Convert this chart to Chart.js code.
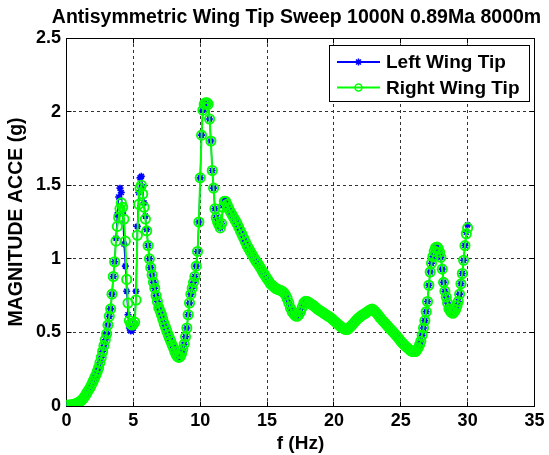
<!DOCTYPE html>
<html>
<head>
<meta charset="utf-8">
<title>Wing tip sweep</title>
<script src="https://cdn.jsdelivr.net/npm/chart.js@4.4.0/dist/chart.umd.min.js"></script>
<style>
  html, body { margin: 0; padding: 0; background: #fff; }
</style>
</head>
<body>
<canvas id="sweepChart" width="549" height="455"></canvas>
<script>
// sweep frequencies (Hz)
let freqHz = [
    0, 0.1, 0.2, 0.3, 0.4, 0.5, 0.6, 0.7, 0.8, 0.9, 1,
    1.1, 1.2, 1.3, 1.4, 1.5, 1.6, 1.7, 1.8, 1.9, 2,
    2.1, 2.2, 2.3, 2.4, 2.5, 2.6, 2.7, 2.8, 2.9, 3,
    3.1, 3.2, 3.3, 3.4, 3.5, 3.6, 3.7, 3.8, 3.9, 4,
    4.1, 4.2, 4.3, 4.4, 4.5, 4.6, 4.7, 4.8, 4.9, 5,
    5.1, 5.2, 5.3, 5.4, 5.5, 5.6, 5.7, 5.8, 5.9, 6,
    6.1, 6.2, 6.3, 6.4, 6.5, 6.6, 6.7, 6.8, 6.9, 7,
    7.1, 7.2, 7.3, 7.4, 7.5, 7.6, 7.7, 7.8, 7.9, 8,
    8.1, 8.2, 8.3, 8.4, 8.5, 8.6, 8.7, 8.8, 8.9, 9,
    9.1, 9.2, 9.3, 9.4, 9.5, 9.6, 9.7, 9.8, 9.9, 10,
    10.1, 10.2, 10.3, 10.4, 10.5, 10.6, 10.7, 10.8, 10.9, 11,
    11.1, 11.2, 11.3, 11.4, 11.5, 11.6, 11.7, 11.8, 11.9, 12,
    12.125, 12.25, 12.375, 12.5, 12.625, 12.75, 12.875, 13,
    13.125, 13.25, 13.375, 13.5, 13.625, 13.75, 13.875, 14,
    14.125, 14.25, 14.375, 14.5, 14.625, 14.75, 14.875, 15,
    15.125, 15.25, 15.375, 15.5, 15.625, 15.75, 15.875, 16,
    16.125, 16.25, 16.375, 16.5, 16.625, 16.75, 16.875, 17,
    17.125, 17.25, 17.375, 17.5, 17.625, 17.75, 17.875, 18,
    18.125, 18.25, 18.375, 18.5, 18.625, 18.75, 18.875, 19,
    19.125, 19.25, 19.375, 19.5, 19.625, 19.75, 19.875, 20,
    20.125, 20.25, 20.375, 20.5, 20.625, 20.75, 20.875, 21,
    21.125, 21.25, 21.375, 21.5, 21.625, 21.75, 21.875, 22,
    22.125, 22.25, 22.375, 22.5, 22.625, 22.75, 22.875, 23,
    23.125, 23.25, 23.375, 23.5, 23.625, 23.75, 23.875, 24,
    24.125, 24.25, 24.375, 24.5, 24.625, 24.75, 24.875, 25,
    25.125, 25.25, 25.375, 25.5, 25.625, 25.75, 25.875, 26,
    26.1, 26.2, 26.3, 26.4, 26.5, 26.6, 26.7, 26.8, 26.9, 27,
    27.1, 27.2, 27.3, 27.4, 27.5, 27.6, 27.7, 27.8, 27.9, 28,
    28.1, 28.2, 28.3, 28.4, 28.5, 28.6, 28.7, 28.8, 28.9, 29,
    29.1, 29.2, 29.3, 29.4, 29.5, 29.6, 29.7, 29.8, 29.9, 30
];

// acceleration magnitude (g), left wing tip
let leftTip = [
    0.005, 0.005, 0.006, 0.007, 0.008, 0.01, 0.012, 0.016, 0.02, 0.025, 0.03,
    0.037, 0.045, 0.057, 0.07, 0.085, 0.1, 0.115, 0.13, 0.15, 0.17,
    0.19, 0.21, 0.235, 0.26, 0.295, 0.33, 0.37, 0.41, 0.45, 0.49,
    0.55, 0.61, 0.66, 0.76, 0.88, 0.98, 1.14, 1.30, 1.42, 1.48,
    1.45, 1.31, 1.10, 0.95, 0.78, 0.62, 0.53, 0.51, 0.515, 0.53,
    0.56, 0.78, 1.22, 1.45, 1.55, 1.56, 1.49, 1.38, 1.29, 1.20,
    1.09, 1.00, 0.94, 0.89, 0.84, 0.80, 0.75, 0.71, 0.67, 0.645,
    0.62, 0.59, 0.56, 0.535, 0.51, 0.485, 0.46, 0.44, 0.415, 0.395,
    0.365, 0.345, 0.33, 0.325, 0.33, 0.35, 0.38, 0.42, 0.47, 0.53,
    0.62, 0.70, 0.76, 0.80, 0.84, 0.88, 0.95, 1.05, 1.25, 1.55,
    1.84, 2.01, 2.05, 2.06, 2.06, 2.05, 1.95, 1.80, 1.60, 1.48,
    1.34, 1.28, 1.25, 1.23, 1.21, 1.24, 1.36, 1.40, 1.40, 1.37,
    1.345, 1.32, 1.30, 1.28, 1.26, 1.24, 1.215, 1.19,
    1.165, 1.14, 1.115, 1.09, 1.07, 1.05, 1.03, 1.01,
    0.99, 0.975, 0.958, 0.94, 0.92, 0.90, 0.882, 0.865,
    0.848, 0.83, 0.82, 0.81, 0.80, 0.795, 0.79, 0.785,
    0.78, 0.77, 0.755, 0.73, 0.70, 0.665, 0.64, 0.625,
    0.612, 0.61, 0.62, 0.64, 0.67, 0.70, 0.712, 0.71,
    0.703, 0.695, 0.688, 0.68, 0.67, 0.66, 0.652, 0.645,
    0.638, 0.63, 0.622, 0.615, 0.608, 0.60, 0.59, 0.58,
    0.57, 0.56, 0.55, 0.54, 0.532, 0.525, 0.52, 0.52,
    0.528, 0.54, 0.552, 0.565, 0.578, 0.59, 0.60, 0.61,
    0.618, 0.625, 0.632, 0.64, 0.648, 0.655, 0.658, 0.65,
    0.638, 0.625, 0.61, 0.595, 0.582, 0.57, 0.558, 0.545,
    0.532, 0.52, 0.508, 0.495, 0.482, 0.47, 0.455, 0.44,
    0.428, 0.415, 0.405, 0.395, 0.385, 0.375, 0.37, 0.37,
    0.37, 0.38, 0.395, 0.415, 0.44, 0.48, 0.53, 0.58, 0.64, 0.71,
    0.82, 0.91, 0.97, 1.015, 1.05, 1.075, 1.08, 1.07, 1.045, 1.01,
    0.93, 0.84, 0.78, 0.74, 0.70, 0.66, 0.645, 0.635, 0.63, 0.64,
    0.655, 0.68, 0.71, 0.76, 0.83, 0.90, 0.99, 1.09, 1.18, 1.23
];

// acceleration magnitude (g), right wing tip
let rightTip = [
    0.005, 0.005, 0.006, 0.007, 0.008, 0.01, 0.012, 0.016, 0.02, 0.025, 0.03,
    0.037, 0.045, 0.057, 0.07, 0.085, 0.1, 0.115, 0.13, 0.15, 0.17,
    0.19, 0.21, 0.235, 0.26, 0.295, 0.33, 0.37, 0.41, 0.45, 0.49,
    0.55, 0.61, 0.66, 0.76, 0.88, 0.98, 1.12, 1.22, 1.28, 1.34,
    1.38, 1.35, 1.27, 1.12, 0.86, 0.70, 0.58, 0.56, 0.55, 0.555,
    0.57, 0.72, 1.16, 1.37, 1.48, 1.50, 1.44, 1.35, 1.27, 1.19,
    1.09, 1.00, 0.94, 0.89, 0.84, 0.80, 0.75, 0.71, 0.67, 0.645,
    0.62, 0.59, 0.56, 0.535, 0.51, 0.485, 0.46, 0.44, 0.415, 0.395,
    0.37, 0.35, 0.335, 0.33, 0.335, 0.355, 0.385, 0.42, 0.47, 0.53,
    0.62, 0.70, 0.76, 0.80, 0.84, 0.88, 0.95, 1.05, 1.25, 1.55,
    1.84, 2.01, 2.05, 2.06, 2.06, 2.05, 1.95, 1.80, 1.60, 1.48,
    1.34, 1.28, 1.25, 1.23, 1.21, 1.24, 1.35, 1.39, 1.39, 1.37,
    1.345, 1.32, 1.30, 1.28, 1.26, 1.24, 1.215, 1.19,
    1.165, 1.14, 1.115, 1.09, 1.07, 1.05, 1.03, 1.01,
    0.99, 0.975, 0.958, 0.94, 0.92, 0.90, 0.882, 0.865,
    0.848, 0.83, 0.82, 0.81, 0.80, 0.795, 0.79, 0.785,
    0.78, 0.77, 0.755, 0.73, 0.70, 0.665, 0.64, 0.625,
    0.612, 0.61, 0.62, 0.64, 0.67, 0.70, 0.712, 0.71,
    0.703, 0.695, 0.688, 0.68, 0.67, 0.66, 0.652, 0.645,
    0.638, 0.63, 0.622, 0.615, 0.608, 0.60, 0.59, 0.58,
    0.57, 0.56, 0.55, 0.54, 0.532, 0.525, 0.52, 0.52,
    0.528, 0.54, 0.552, 0.565, 0.578, 0.59, 0.60, 0.61,
    0.618, 0.625, 0.632, 0.64, 0.648, 0.655, 0.658, 0.65,
    0.638, 0.625, 0.61, 0.595, 0.582, 0.57, 0.558, 0.545,
    0.532, 0.52, 0.508, 0.495, 0.482, 0.47, 0.455, 0.44,
    0.428, 0.415, 0.405, 0.395, 0.385, 0.375, 0.37, 0.37,
    0.37, 0.38, 0.395, 0.415, 0.44, 0.48, 0.53, 0.58, 0.64, 0.71,
    0.82, 0.91, 0.97, 1.015, 1.05, 1.075, 1.08, 1.07, 1.045, 1.01,
    0.93, 0.84, 0.78, 0.74, 0.70, 0.66, 0.645, 0.635, 0.63, 0.64,
    0.655, 0.68, 0.71, 0.76, 0.83, 0.90, 0.99, 1.09, 1.17, 1.21
];

let xTicks = [0, 5, 10, 15, 20, 25, 30, 35];
let yTicks = [0, 0.5, 1, 1.5, 2, 2.5];
let yTickLabels = ['0', '0.5', '1', '1.5', '2', '2.5'];

let chartTitle = 'Antisymmetric Wing Tip Sweep 1000N 0.89Ma 8000m';
let xTitle = 'f (Hz)';
let yTitle = 'MAGNITUDE ACCE (g)';

const FONT = "'Liberation Sans', Arial, Helvetica, sans-serif";

function toPoints(values) {
    return freqHz.map((f, i) => ({ x: f, y: values[i] }));
}

// solid box round the plot area plus short inward ticks on every side
const frameTicks = {
    id: 'frameTicks',
    beforeDatasetsDraw(chart) {
        const { ctx, chartArea: a, scales: { x, y } } = chart;
        const L = Math.round(a.left - 0.5) + 0.5;
        const R = Math.round(a.right - 0.5) + 0.5;
        const T = Math.round(a.top - 0.5) + 0.5;
        const B = Math.round(a.bottom - 0.5) + 0.5;
        ctx.save();
        ctx.strokeStyle = '#000';
        ctx.lineWidth = 1;
        ctx.beginPath();
        x.ticks.forEach(t => {
            const p = Math.round(x.getPixelForValue(t.value) - 0.5) + 0.5;
            ctx.moveTo(p, B); ctx.lineTo(p, B - 5);
            ctx.moveTo(p, T); ctx.lineTo(p, T + 5);
        });
        y.ticks.forEach(t => {
            const p = Math.round(y.getPixelForValue(t.value) - 0.5) + 0.5;
            ctx.moveTo(L, p); ctx.lineTo(L + 5, p);
            ctx.moveTo(R, p); ctx.lineTo(R - 5, p);
        });
        ctx.stroke();
        ctx.strokeRect(L, T, R - L, B - T);
        ctx.restore();
    }
};

// title centred over the axes
const plotTitle = {
    id: 'plotTitle',
    afterDraw(chart) {
        const { ctx, chartArea: a } = chart;
        ctx.save();
        ctx.fillStyle = '#000';
        ctx.font = 'bold 19.5px ' + FONT;
        ctx.textAlign = 'center';
        ctx.textBaseline = 'middle';
        ctx.fillText(chartTitle, (a.left + a.right) / 2 - 4, 18);
        ctx.restore();
    }
};

// boxed legend in the upper right corner, left wing first
const boxLegend = {
    id: 'boxLegend',
    afterDraw(chart) {
        const { ctx } = chart;
        const rows = [chart.data.datasets[1], chart.data.datasets[0]];
        ctx.save();
        ctx.fillStyle = '#fff';
        ctx.fillRect(329.5, 45.5, 200, 56);
        ctx.strokeStyle = '#000';
        ctx.lineWidth = 1;
        ctx.strokeRect(329.5, 45.5, 200, 56);
        rows.forEach((ds, i) => {
            const cy = 62 + i * 25.5;
            ctx.strokeStyle = ds.borderColor;
            ctx.lineWidth = 2;
            ctx.beginPath();
            ctx.moveTo(337, cy);
            ctx.lineTo(380, cy);
            ctx.stroke();
            ctx.fillStyle = 'rgba(0,0,0,0)';
            ctx.strokeStyle = ds.pointBorderColor;
            ctx.lineWidth = 1.5;
            Chart.helpers.drawPoint(ctx, {
                pointStyle: ds.pointStyle,
                radius: 3.5,
                borderWidth: 1.5,
                rotation: 0
            }, 358.5, cy);
            ctx.fillStyle = '#000';
            ctx.font = 'bold 19px ' + FONT;
            ctx.textAlign = 'left';
            ctx.textBaseline = 'middle';
            ctx.fillText(ds.label, 386, cy + 1);
        });
        ctx.restore();
    }
};

const sweepChart = document.querySelector('#sweepChart');

new Chart(sweepChart, {
    type: 'line',
    data: {
        datasets: [{
            // drawn last, so it sits on top of the left wing trace
            label: 'Right Wing Tip',
            data: toPoints(rightTip),
            borderColor: '#00ff00',
            backgroundColor: 'rgba(0,0,0,0)',
            borderWidth: 2,
            pointStyle: 'circle',
            pointRadius: 4.6,
            pointBorderWidth: 1.9,
            pointBorderColor: '#00ff00',
            pointBackgroundColor: 'rgba(0,0,0,0)',
            tension: 0,
            fill: false
        }, {
            label: 'Left Wing Tip',
            data: toPoints(leftTip),
            borderColor: '#0000ff',
            backgroundColor: 'rgba(0,0,0,0)',
            borderWidth: 1.3,
            pointStyle: 'star',
            pointRadius: 3.5,
            pointBorderWidth: 1.6,
            pointBorderColor: '#0000ff',
            pointBackgroundColor: 'rgba(0,0,0,0)',
            tension: 0,
            fill: false
        }]
    },
    options: {
        responsive: false,
        animation: false,
        events: [],
        layout: { padding: { top: 38, right: 14, bottom: 0, left: 0 } },
        plugins: {
            legend: { display: false },
            tooltip: { enabled: false },
            title: { display: false }
        },
        scales: {
            x: {
                type: 'linear',
                min: 0,
                max: 35,
                afterBuildTicks: s => { s.ticks = xTicks.map(v => ({ value: v })); },
                afterFit: s => { s.height = 49; },
                ticks: {
                    color: '#000',
                    padding: 4.5,
                    maxRotation: 0,
                    font: { family: FONT, size: 18, weight: 'bold' },
                    callback: v => String(v)
                },
                grid: { color: '#333', lineWidth: 1, drawTicks: false },
                border: { display: false, dash: [3, 3] },
                title: {
                    display: true,
                    text: xTitle,
                    color: '#000',
                    font: { family: FONT, size: 19, weight: 'bold' },
                    padding: { top: 0, bottom: 0.3 }
                }
            },
            y: {
                type: 'linear',
                min: 0,
                max: 2.5,
                afterBuildTicks: s => { s.ticks = yTicks.map(v => ({ value: v })); },
                afterFit: s => { s.width = 66.5; },
                ticks: {
                    color: '#000',
                    padding: 5.5,
                    font: { family: FONT, size: 18, weight: 'bold' },
                    callback: (v, i) => yTickLabels[i]
                },
                grid: { color: '#333', lineWidth: 1, drawTicks: false },
                border: { display: false, dash: [3, 3] },
                title: {
                    display: true,
                    text: yTitle,
                    color: '#000',
                    font: { family: FONT, size: 19.5, weight: 'bold' },
                    padding: { top: 5.3, bottom: 0 }
                }
            }
        }
    },
    plugins: [frameTicks, plotTitle, boxLegend]
});
</script>
</body>
</html>
